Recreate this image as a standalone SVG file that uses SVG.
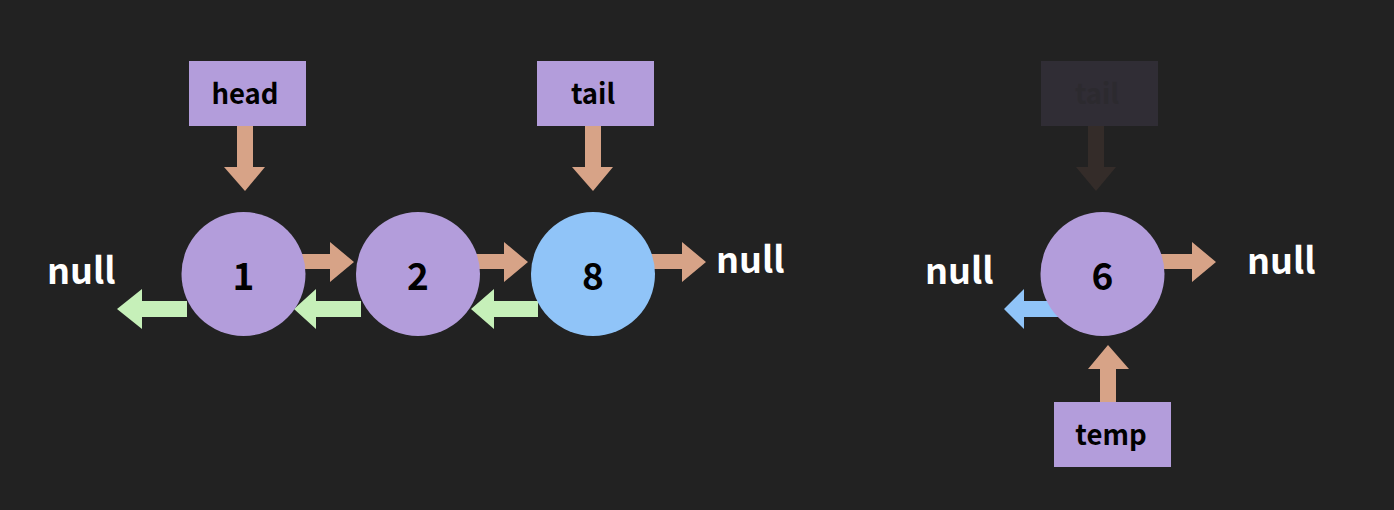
<svg xmlns="http://www.w3.org/2000/svg" width="1394" height="510" viewBox="0 0 1394 510">
<defs>
<style>
.box{fill:#b39ddb}
.node{fill:#b39ddb}
.nodeb{fill:#90c4f8}
.lbl{font-family:"Noto Sans CJK SC","Noto Sans",sans-serif;font-weight:bold;font-size:27.5px;fill:#000;text-anchor:middle}
.num{font-family:"Noto Sans CJK SC","Noto Sans",sans-serif;font-weight:bold;font-size:37px;fill:#000;text-anchor:middle}
.null{font-family:"Noto Sans CJK SC","Noto Sans",sans-serif;font-weight:bold;font-size:36px;fill:#fff}
.next{fill:#d7a387}
.prev{fill:#c6f0b9}
.prevb{fill:#90c4f8}
</style>
</defs>
<rect width="1394" height="510" fill="#222222"/>
<g id="connectors">
<polygon class="next" points="237,126 253,126 253,167 265,167 245,191 224,167 237,167"/>
<polygon class="next" points="585,126 601,126 601,167 613,167 593,191 572,167 585,167"/>
<polygon fill="#342c29" points="1088,124 1104,124 1104,167 1116,167 1096,191 1076,167 1088,167"/>
<polygon class="next" points="300,254 330,254 330,242 354,262 330,282 330,269 300,269"/>
<polygon class="next" points="475,254 504,254 504,242 528,262 504,282 504,269 475,269"/>
<polygon class="next" points="650,254 682,254 682,242 706,262 682,282 682,269 650,269"/>
<polygon class="next" points="1159,254 1192,254 1192,242 1216,262 1192,282 1192,269 1159,269"/>
<polygon class="prev" points="187,301 142,301 142,289 117,309 142,329 142,317 187,317"/>
<polygon class="prev" points="361,301 316,301 316,289 294,309 316,329 316,317 361,317"/>
<polygon class="prev" points="538,301 494,301 494,289 471,309 494,329 494,317 538,317"/>
<polygon class="prevb" points="1065,301 1024,301 1024,289 1004,309 1024,329 1024,317 1065,317"/>
<polygon class="next" points="1100,403 1116,403 1116,369 1129,369 1108,345 1088,369 1100,369"/>
</g>
<g id="node-1"><circle class="node" cx="243.5" cy="274" r="62"/><text class="num" x="243.5" y="290">1</text></g>
<g id="node-2"><circle class="node" cx="418" cy="274" r="62"/><text class="num" x="418" y="290">2</text></g>
<g id="node-8"><circle class="nodeb" cx="593" cy="274" r="62"/><text class="num" x="593" y="290">8</text></g>
<g id="node-6"><circle class="node" cx="1102.5" cy="274" r="62"/><text class="num" x="1102.5" y="290">6</text></g>
<g id="head"><rect class="box" x="189" y="61" width="117" height="65"/><text class="lbl" x="245" y="104">head</text></g>
<g id="tail"><rect class="box" x="537" y="61" width="117" height="65"/><text class="lbl" x="593" y="104">tail</text></g>
<g id="tail-faded"><rect fill="#302d35" x="1041" y="61" width="117" height="65"/><text class="lbl" style="fill:#2c2a2f" x="1097" y="104">tail</text></g>
<g id="temp"><rect class="box" x="1054" y="402" width="117" height="65"/><text class="lbl" x="1111" y="445">temp</text></g>
<g id="nulls">
<text class="null" x="47" y="284">null</text>
<text class="null" x="716" y="273">null</text>
<text class="null" x="925" y="284">null</text>
<text class="null" x="1247" y="274">null</text>
</g>
</svg>
